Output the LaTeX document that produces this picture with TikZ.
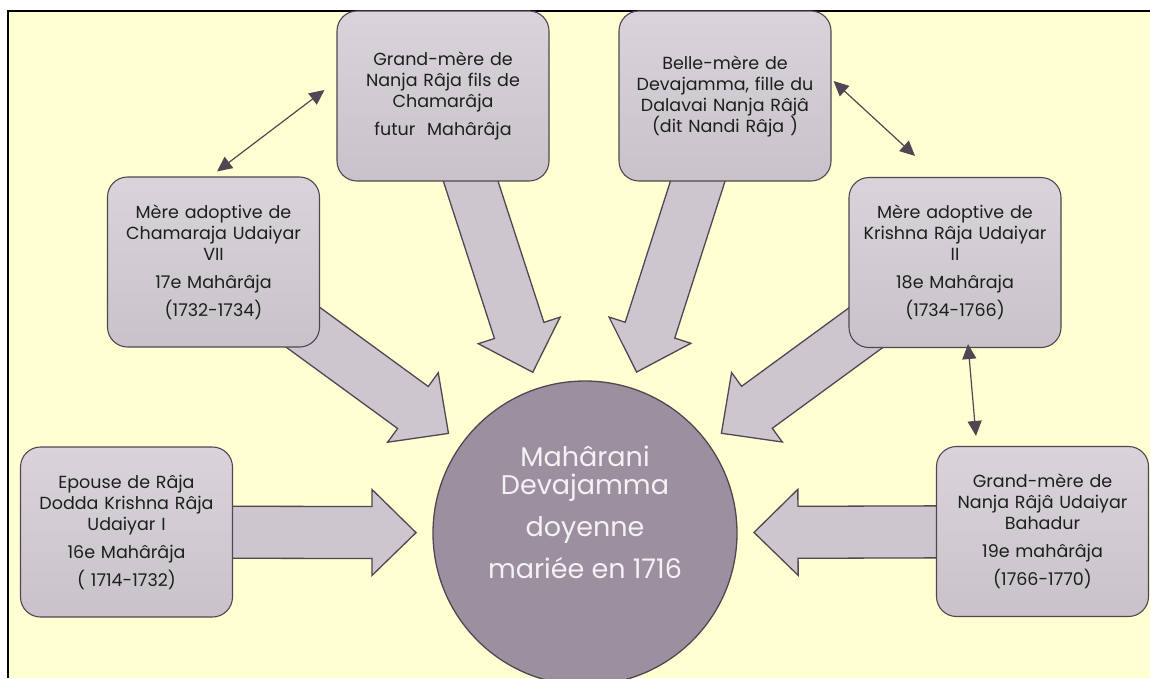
\documentclass[tikz,border=0pt]{standalone}
\usepackage{fontspec}
\setmainfont{Poppins}
\usetikzlibrary{calc,arrows.meta}
\definecolor{bgyellow}{HTML}{FFFFD1}
\definecolor{boxtop}{HTML}{D8D4DA}
\definecolor{boxbot}{HTML}{C7C3C9}
\definecolor{edgec}{HTML}{4F4753}
\definecolor{arrfill}{HTML}{CCC7CE}
\definecolor{circfill}{HTML}{9C8FA0}
\definecolor{circtext}{HTML}{F4F2F4}
\definecolor{boxtext}{HTML}{1E1E1E}
\pgfdeclarelayer{bg}
\pgfdeclarelayer{arr}
\pgfsetlayers{bg,arr,main}
\tikzset{
  infobox/.style={rectangle, rounded corners=20pt, minimum width=212pt, minimum height=170pt,
    draw=edgec, line width=1.1pt, top color=boxtop, bottom color=boxbot, text=boxtext,
    text width=208pt, align=center, inner sep=0pt, font=\fontsize{17.5}{21}\selectfont},
  barrow/.style={draw=edgec, line width=1.3pt, fill=arrfill, line join=miter},
  dblarrow/.style={draw=edgec, line width=1.2pt, {Triangle[length=15pt,width=14pt]}-{Triangle[length=15pt,width=14pt]}},
  bigcircle/.style={circle, minimum size=304pt, inner sep=0pt, draw=edgec, line width=1.3pt, fill=circfill},
  circlabel/.style={text=circtext, align=center, font=\fontsize{27}{28}\selectfont}
}
\newcommand\blockarrow[2]{%
  \coordinate (#2base) at ($(#2)!44pt!(#1)$);
  \draw[barrow] ($(#1)!26pt!90:(#2)$) -- ($(#2base)!26pt!90:(#2)$) -- ($(#2base)!43pt!90:(#2)$)
    -- (#2) -- ($(#2base)!43pt!-90:(#2)$) -- ($(#2base)!26pt!-90:(#2)$) -- ($(#1)!26pt!-90:(#2)$) -- cycle;}
\begin{document}
\begin{tikzpicture}[x=1pt,y=-1pt]
\useasboundingbox (0,0) rectangle (1150,678);
\begin{pgfonlayer}{bg}
  \fill[white] (0,0) rectangle (1150,678);
  \fill[bgyellow] (8,11) rectangle (1150,678);
  \draw[black, line width=1.5pt] (8,678) -- (8,11) -- (1150,11);
\end{pgfonlayer}

\node[infobox] (box1) at (443,96) {Grand-mère de\\ Nanja Râja fils de\\ Chamarâja\\[7pt] futur~ Mahârâja};
\node[infobox] (box2) at (725,96) {Belle-mère de\\ Devajamma, fille du\\ Dalavai Nanja Râjâ\\ (dit Nandi Râja )};
\node[infobox] (box3) at (213.5,262) {Mère adoptive de\\ Chamaraja Udaiyar\\ VII\\[7pt] 17e Mahârâja\\[7pt] (1732-1734)};
\node[infobox] (box4) at (955,262.5) {Mère adoptive de\\ Krishna Râja Udaiyar\\ II\\[7pt] 18e Mahâraja\\[7pt] (1734-1766)};
\node[infobox] (box5) at (126.5,532) {Epouse de Râja\\ Dodda Krishna Râja\\ Udaiyar I\\[7pt] 16e Mahârâja\\[7pt] ( 1714-1732)};
\node[infobox] (box6) at (1042.5,531.5) {Grand-mère de\\ Nanja Râjâ Udaiyar\\ Bahadur\\[7pt] 19e mahârâja\\[7pt] (1766-1770)};

\node[bigcircle] (circ) at (585,533) {};
\node[circlabel] (circlab) at (585,512) {Mahârani\\ Devajamma\\[14pt] doyenne\\[13pt] mariée en 1716};

\coordinate (t1) at ($(circ.center)!169pt!(box1)$);
\coordinate (t2) at ($(circ.center)!169pt!(box2)$);
\coordinate (t3) at ($(circ.center)!169pt!(box3)$);
\coordinate (t4) at ($(circ.center)!169pt!(box4)$);
\coordinate (t5) at ($(circ.center)!169pt!(box5)$);
\coordinate (t6) at ($(circ.center)!169pt!(box6)$);

\begin{pgfonlayer}{arr}
  \blockarrow{box1}{t1}
  \blockarrow{box2}{t2}
  \blockarrow{box3}{t3}
  \blockarrow{box4}{t4}
  \blockarrow{box5}{t5}
  \blockarrow{box6}{t6}
\end{pgfonlayer}

\draw[dblarrow] ([shift={(3.5,-5)}]box3.north) -- ([shift={(-12,-6)}]box1.west);
\draw[dblarrow] ([shift={(2,-15)}]box2.east) -- ([shift={(-40,-21)}]box4.north);
\draw[dblarrow] ([shift={(13,-4)}]box4.south) -- ([shift={(40,-10)}]box6.north west);
\end{tikzpicture}
\end{document}
